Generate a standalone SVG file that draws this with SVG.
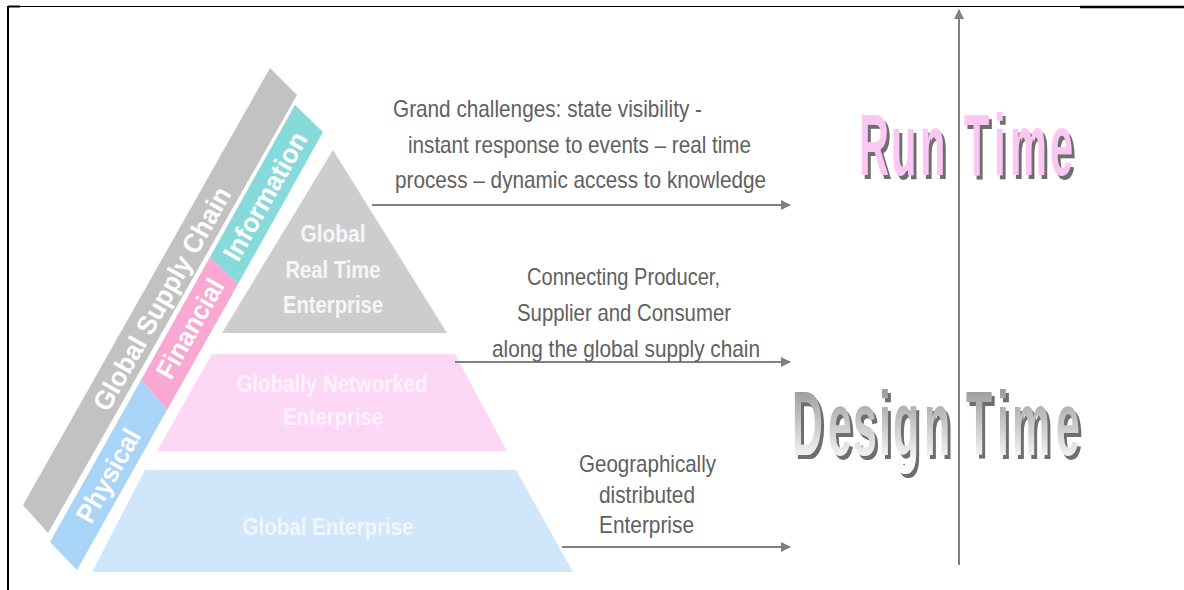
<svg xmlns="http://www.w3.org/2000/svg" width="1184" height="590" viewBox="0 0 1184 590">
<style>
.lbl{font-family:"Liberation Sans",Arial,sans-serif;font-size:24px;fill:#606060}
.pyr{font-family:"Liberation Sans",Arial,sans-serif;font-size:24px;font-weight:bold;text-anchor:middle}
.band{font-family:"Liberation Sans",Arial,sans-serif;font-size:27px;font-weight:bold;fill:#ffffff}
.big{font-family:"Liberation Sans",Arial,sans-serif;font-weight:bold}
.conn{stroke:#808080;stroke-width:2;fill:none}
</style>
<defs>
<marker id="ah" viewBox="0 0 10 10" refX="9" refY="5" markerWidth="5" markerHeight="5" orient="auto" markerUnits="strokeWidth">
<path d="M0,0 L10,5 L0,10 z" fill="#808080"/>
</marker>
<filter id="sh" x="-10%" y="-10%" width="130%" height="140%">
<feOffset in="SourceAlpha" dx="3" dy="4" result="o"/>
<feFlood flood-color="#6e6e6e"/>
<feComposite in2="o" operator="in" result="s"/>
<feMerge><feMergeNode in="s"/><feMergeNode in="SourceGraphic"/></feMerge>
</filter>
<linearGradient id="dg" gradientUnits="userSpaceOnUse" x1="0" y1="390" x2="0" y2="462">
<stop offset="0" stop-color="#9c9c9c"/>
<stop offset="1" stop-color="#fafafa"/>
</linearGradient>
</defs>
<rect width="1184" height="590" fill="#ffffff"/>
<g id="frame" stroke="#000000">
<line x1="8" y1="6" x2="8" y2="590" stroke-width="2"/>
<line x1="8" y1="6.5" x2="1080" y2="6.5" stroke-width="1"/>
<line x1="8" y1="6.5" x2="20" y2="6.5" stroke-width="2"/>
<line x1="1080" y1="7" x2="1184" y2="7" stroke-width="2.5"/>
</g>
<g id="supply-chain-band">
<polygon points="270,68 297,95 48,533 23,505" fill="#c2c2c2"/>
<text class="band" transform="translate(108,413) rotate(-60.5)" textLength="252" lengthAdjust="spacingAndGlyphs">Global Supply Chain</text>
</g>
<g id="information-band">
<polygon points="295,105 323,132 238,284 210,257" fill="#86dada"/>
<text class="band" transform="translate(238,263) rotate(-60.5)" textLength="143" lengthAdjust="spacingAndGlyphs">Information</text>
</g>
<g id="financial-band">
<polygon points="210,257 238,284 167,410 141,380" fill="#f8a8d2"/>
<text class="band" transform="translate(171,381) rotate(-60.5)" textLength="110" lengthAdjust="spacingAndGlyphs">Financial</text>
</g>
<g id="physical-band">
<polygon points="141,380 167,410 77,570 50,542" fill="#a8d4f8"/>
<text class="band" transform="translate(91,525) rotate(-60.5)" textLength="103" lengthAdjust="spacingAndGlyphs">Physical</text>
</g>
<g id="global-real-time-enterprise">
<polygon points="333,150 447,333 222,333" fill="#cdcdcd"/>
<text class="pyr" fill="#f6f6f6" x="333" y="242" textLength="65" lengthAdjust="spacingAndGlyphs">Global</text>
<text class="pyr" fill="#f6f6f6" x="333" y="278" textLength="95" lengthAdjust="spacingAndGlyphs">Real Time</text>
<text class="pyr" fill="#f6f6f6" x="333" y="313" textLength="100" lengthAdjust="spacingAndGlyphs">Enterprise</text>
</g>
<g id="globally-networked-enterprise">
<polygon points="212,354 455,354 507,451 157,451" fill="#fdd8f6"/>
<text class="pyr" fill="#fdf1fb" x="332" y="392" textLength="191" lengthAdjust="spacingAndGlyphs">Globally Networked</text>
<text class="pyr" fill="#fdf1fb" x="333" y="425" textLength="100" lengthAdjust="spacingAndGlyphs">Enterprise</text>
</g>
<g id="global-enterprise">
<polygon points="145,470 516,470 573,572 92,572" fill="#d0e6fb"/>
<text class="pyr" fill="#eef6fe" x="328" y="535" textLength="171" lengthAdjust="spacingAndGlyphs">Global Enterprise</text>
</g>
<g id="connectors">
<line class="conn" x1="372" y1="205" x2="790" y2="205" marker-end="url(#ah)"/>
<line class="conn" x1="455" y1="362" x2="790" y2="362" marker-end="url(#ah)"/>
<line class="conn" x1="562" y1="547" x2="790" y2="547" marker-end="url(#ah)"/>
<line class="conn" x1="959" y1="565" x2="959" y2="10" marker-end="url(#ah)"/>
</g>
<g id="label-grand-challenges">
<text class="lbl" x="393" y="117" textLength="309" lengthAdjust="spacingAndGlyphs">Grand challenges: state visibility -</text>
<text class="lbl" x="408" y="153" textLength="343" lengthAdjust="spacingAndGlyphs">instant response to events – real time</text>
<text class="lbl" x="395" y="188" textLength="371" lengthAdjust="spacingAndGlyphs">process – dynamic access to knowledge</text>
</g>
<g id="label-connecting">
<text class="lbl" x="527" y="285" textLength="193" lengthAdjust="spacingAndGlyphs">Connecting Producer,</text>
<text class="lbl" x="517" y="321" textLength="214" lengthAdjust="spacingAndGlyphs">Supplier and Consumer</text>
<text class="lbl" x="492" y="357" textLength="268" lengthAdjust="spacingAndGlyphs">along the global supply chain</text>
</g>
<g id="label-geographically">
<text class="lbl" x="579" y="472" textLength="137" lengthAdjust="spacingAndGlyphs">Geographically</text>
<text class="lbl" x="599" y="503" textLength="96" lengthAdjust="spacingAndGlyphs">distributed</text>
<text class="lbl" x="599" y="533" textLength="95" lengthAdjust="spacingAndGlyphs">Enterprise</text>
</g>
<g id="run-time" filter="url(#sh)">
<text class="big" font-size="88" fill="#fac8f2" transform="scale(0.47,1)" x="1827.7 1895.7 1957.4" y="175">Run</text>
<text class="big" font-size="88" fill="#fac8f2" transform="scale(0.47,1)" x="2051.1 2114.9 2148.9 2234.0" y="175">Time</text>
</g>
<g id="design-time" filter="url(#sh)">
<text class="big" font-size="91" fill="url(#dg)" transform="scale(0.47,1)" x="1685.1 1761.7 1814.9 1870.2 1900.0 1966.0" y="455">Design</text>
<text class="big" font-size="91" fill="url(#dg)" transform="scale(0.47,1)" x="2055.3 2121.3 2153.2 2246.8" y="455">Time</text>
</g>
</svg>
